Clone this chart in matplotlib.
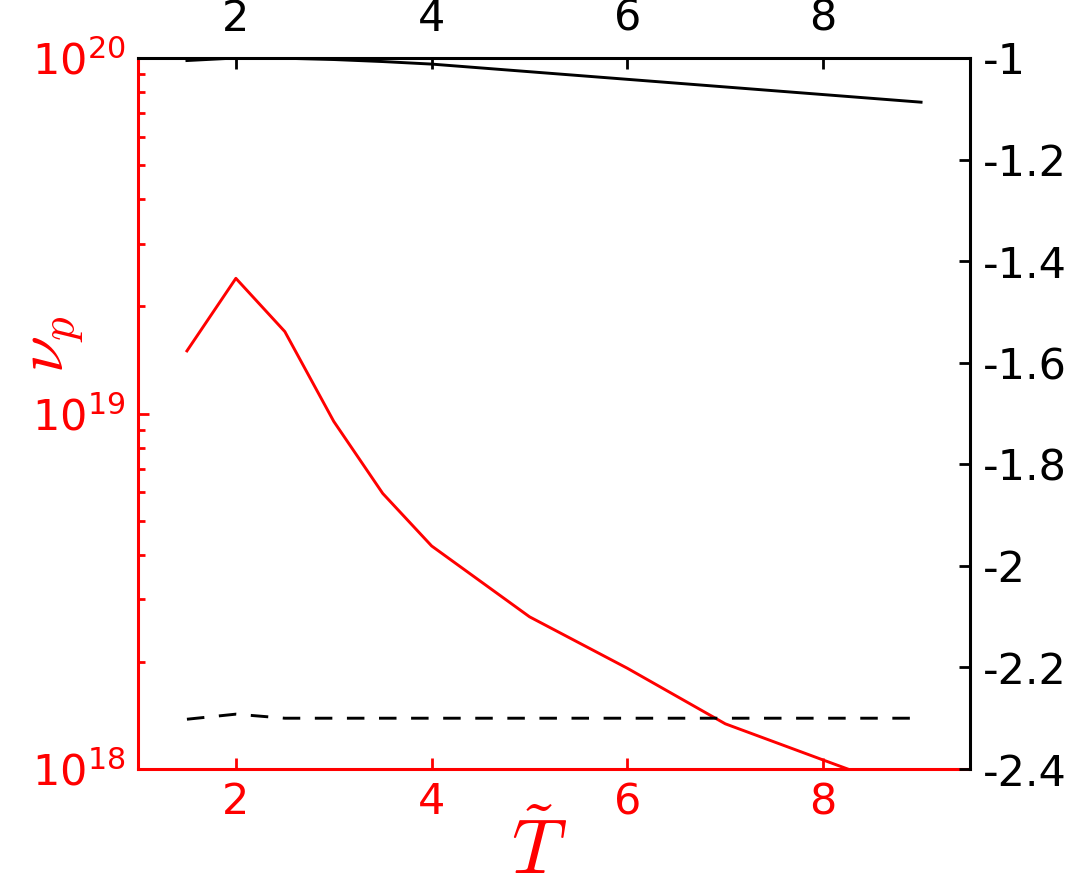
import numpy as np
import matplotlib
matplotlib.use("Agg")
import matplotlib.pyplot as plt
from matplotlib.ticker import FuncFormatter, LogLocator, FixedLocator

# data
T = [1.5, 2, 2.5, 3, 3.5, 4, 5, 6, 7, 8, 9]
nu_p = [1.50e19, 2.40e19, 1.70e19, 9.5e18, 5.96e18, 4.24e18, 2.68e18, 1.92e18, 1.34e18, 1.06e18, 8.4e17]
right_solid = [-1.005, -1.0, -1.0005, -1.003, -1.007, -1.012, -1.027, -1.042, -1.057, -1.072, -1.087]
right_dashed = [-2.302, -2.292, -2.300, -2.300, -2.300, -2.300, -2.300, -2.300, -2.300, -2.300, -2.300]

xticks = [2, 4, 6, 8]
rticks = [-2.4, -2.2, -2.0, -1.8, -1.6, -1.4, -1.2, -1.0]

plt.rcParams['axes.unicode_minus'] = False
plt.rcParams['font.family'] = 'DejaVu Sans'
plt.rcParams['font.size'] = 31

fig = plt.figure(figsize=(10.72, 8.94), dpi=100)
ax = fig.add_axes([138/1072, 1 - 769/894, (970 - 138)/1072, (769 - 58)/894])
ax2 = ax.twinx()

red = '#ff0000'
lw = 2.1

ax.plot(T, nu_p, color=red, lw=lw)
ax.set_yscale('log')
ax.set_ylim(1e18, 1e20)
ax.set_xlim(1, 9.5)
ax.set_xticks(xticks)
ax.yaxis.set_major_locator(LogLocator(base=10, numticks=5))
ax.yaxis.set_minor_locator(LogLocator(base=10, subs=np.arange(2, 10), numticks=20))

ax2.plot(T, right_solid, color='k', lw=lw)
ax2.plot(T, right_dashed, color='k', lw=lw, ls=(0, (6, 5)))
ax2.set_ylim(-2.4, -1.0)
ax2.yaxis.set_major_locator(FixedLocator(rticks))
ax2.yaxis.set_major_formatter(FuncFormatter(lambda v, p: '%g' % round(v, 2)))

# spines: red left/bottom, black top/right
for s in ['top', 'right']:
    ax.spines[s].set_visible(False)
for s in ['left', 'bottom']:
    ax2.spines[s].set_visible(False)
    ax.spines[s].set_color(red)
    ax.spines[s].set_linewidth(2.2)
for s in ['top', 'right']:
    ax2.spines[s].set_color('k')
    ax2.spines[s].set_linewidth(2.2)

ax.tick_params(axis='both', which='major', direction='in', length=8, width=2,
               color=red, labelcolor=red, pad=9, top=False, right=False)
ax.tick_params(axis='y', which='minor', direction='in', length=5, width=2, color=red)

# top x axis from the twin
ax2.xaxis.set_visible(True)
ax2.xaxis.tick_top()
ax2.tick_params(axis='x', which='major', direction='in', length=8, width=2,
                color='k', labelcolor='k', pad=13, bottom=False, labelbottom=False)
ax2.tick_params(axis='y', which='major', direction='in', length=8, width=2,
                color='k', labelcolor='k', pad=9)

ax.set_ylabel(r'$\nu_p$', color=red, fontsize=48, math_fontfamily='cm')
ax.yaxis.set_label_coords(-0.063, 0.598)
ax.set_xlabel(r'$\tilde{T}$', color=red, fontsize=55, math_fontfamily='cm')
ax.xaxis.set_label_coords(0.482, -0.066)

fig.savefig('out.png', dpi=100)
